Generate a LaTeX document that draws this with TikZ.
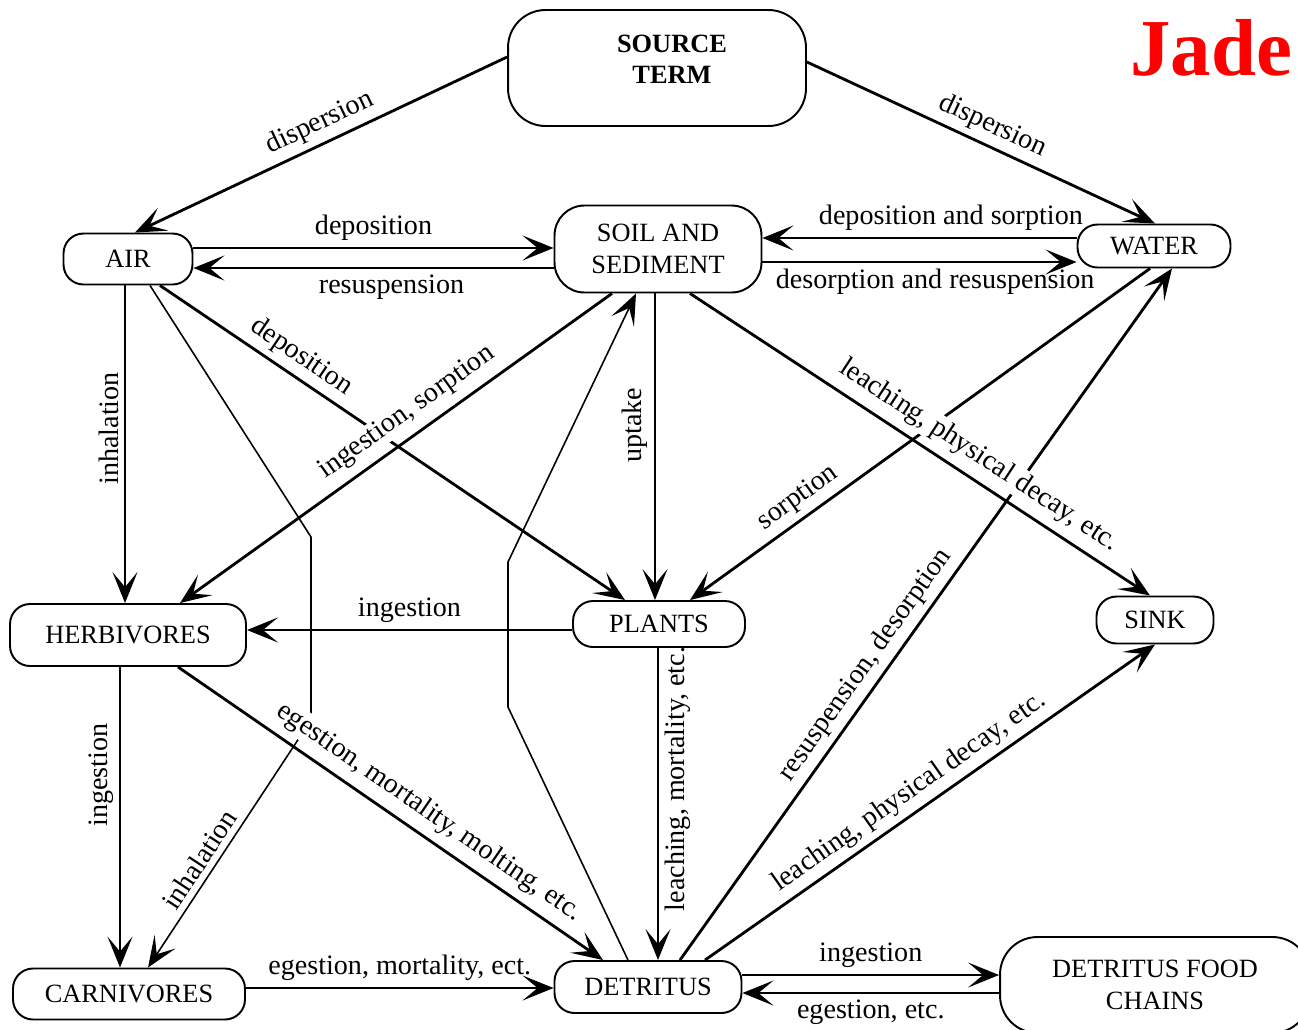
\documentclass[tikz,border=0pt]{standalone}
\usepackage{fontspec}
\setmainfont{Liberation Serif}
\usetikzlibrary{arrows.meta}

\tikzset{barb/.tip={Stealth[length=0.62cm, width=0.5cm, inset=0.3cm]}}

\begin{document}
\begin{tikzpicture}[
    x=0.02cm, y=-0.02cm,
    every node/.style={font=\fontsize{16}{18}\selectfont},
    box/.style={draw, line width=1.1pt, rounded corners=0.4cm, align=center, inner sep=0pt, font=\fontsize{15}{18}\selectfont},
    bigbox/.style={box, rounded corners=0.75cm},
    flow/.style={-barb, line width=1.6pt},
    fineflow/.style={-barb, line width=0.9pt},
    cutlabel/.style={fill=white, inner sep=1pt}
]
\useasboundingbox (0,0) rectangle (1298,1029);

% Compartments
\node[bigbox, minimum width=5.96cm, minimum height=2.32cm, font=\fontsize{15}{18}\selectfont\bfseries] (source) at (657,68) {\hspace*{0.6cm}SOURCE\\\hspace*{0.6cm}TERM\\[-8pt]\mbox{}};
\node[box, minimum width=2.58cm, minimum height=1.02cm] (air) at (128,259) {AIR};
\node[bigbox, rounded corners=0.6cm, minimum width=4.14cm, minimum height=1.74cm] (soil) at (658,249) {SOIL AND\\SEDIMENT};
\node[box, minimum width=3.06cm, minimum height=0.86cm] (water) at (1154,246) {WATER};
\node[box, minimum width=4.72cm, minimum height=1.24cm] (herb) at (128,635) {HERBIVORES};
\node[box, minimum width=3.44cm, minimum height=0.92cm] (plants) at (659,624) {PLANTS};
\node[box, minimum width=2.34cm, minimum height=0.94cm] (sink) at (1155,620) {SINK};
\node[box, minimum width=4.64cm, minimum height=1.02cm] (carn) at (129,994) {CARNIVORES};
\node[box, minimum width=3.74cm, minimum height=1.04cm] (detritus) at (648,987) {DETRITUS};
\node[bigbox, minimum width=6.2cm, minimum height=1.92cm] (dfc) at (1155,985) {DETRITUS FOOD\\CHAINS};

% Watermark
\node[text=red, font=\fontsize{46}{50}\selectfont\bfseries, anchor=base west, inner sep=0pt] (mark) at (1130,75) {Jade};

% Dispersion from the source
\draw[flow, barb-] (air.north -| 135,0) -- node[pos=0.52, sloped, above] {dispersion} (source.west |- 0,57);
\draw[flow] (source.east |- 0,62) -- node[pos=0.51, sloped, above] {dispersion} (water.north -| 1155,0);

% Air <-> soil, soil <-> water
\draw[flow] (air.east |- 0,248) -- node[above] {deposition} (soil.west |- 0,248);
\draw[flow, barb-] (air.east |- 0,268) -- node[below, pos=0.55] {resuspension} (soil.west |- 0,268);
\draw[flow, barb-] (soil.east |- 0,238) -- node[above, pos=0.6] {deposition and sorption} (water.west |- 0,238);
\draw[flow] (soil.east |- 0,262) -- node[below, pos=0.55] {desorption and resuspension} (water.west |- 0,262);

% Out of the air
\draw[fineflow] (air.south -| 125,0) -- node[rotate=90, above, pos=0.45] {inhalation} (herb.north -| 125,0);
\draw[flow] (air.south -| 160,0) -- node[pos=0.28, sloped, above] {deposition} (plants.north -| 625,0);
\draw[fineflow, barb-] (carn.north -| 148,0) -- node[pos=0.4, sloped, above] {inhalation} (311,720) -- (311,537) -- (air.south -| 150,0);

% Soil and plants
\draw[flow, barb-] (herb.north -| 180,0) -- node[pos=0.556, sloped, above=4pt, cutlabel] {ingestion, sorption} (soil.south -| 612,0);
\draw[flow] (soil.south -| 655,0) -- node[rotate=90, above, pos=0.43] {uptake} (plants.north -| 655,0);
\draw[flow, barb-] (herb.east |- 0,630) -- node[above] {ingestion} (plants.west |- 0,630);
\draw[flow, barb-] (plants.north -| 690,0) -- node[pos=0.26, sloped, above] {sorption} (water.south -| 1150,0);

% Detritus
\draw[fineflow] (detritus.north -| 628,0) -- (508,707) -- (508,562) -- (soil.south -| 636,0);
\draw[fineflow] (plants.south -| 658,0) -- node[rotate=90, below, pos=0.42] {leaching, mortality, etc.} (detritus.north -| 658,0);
\draw[flow] (detritus.north -| 680,0) -- node[pos=0.41, sloped, above] {resuspension, desorption} (water.south -| 1172,0);
\draw[flow] (detritus.north -| 705,0) -- node[pos=0.48, sloped, above] {leaching, physical decay, etc.} (sink.south -| 1155,0);
\draw[flow] (soil.south -| 690,0) -- node[pos=0.6, sloped, above=4pt, cutlabel] {leaching, physical decay, etc.} (sink.north -| 1150,0);

% Animals
\draw[fineflow] (herb.south -| 120,0) -- node[rotate=90, above, pos=0.36] {ingestion} (carn.north -| 120,0);
\draw[flow] (herb.south -| 178,0) -- node[pos=0.56, sloped, above=4pt, cutlabel] {egestion, mortality, molting, etc.} (detritus.north -| 603,0);
\draw[flow] (carn.east |- 0,988) -- node[above] {egestion, mortality, ect.} (detritus.west |- 0,988);

% Detritus food chains
\draw[flow] (detritus.east |- 0,975) -- node[above] {ingestion} (dfc.west |- 0,975);
\draw[flow, barb-] (detritus.east |- 0,993) -- node[below] {egestion, etc.} (dfc.west |- 0,993);

\end{tikzpicture}
\end{document}
